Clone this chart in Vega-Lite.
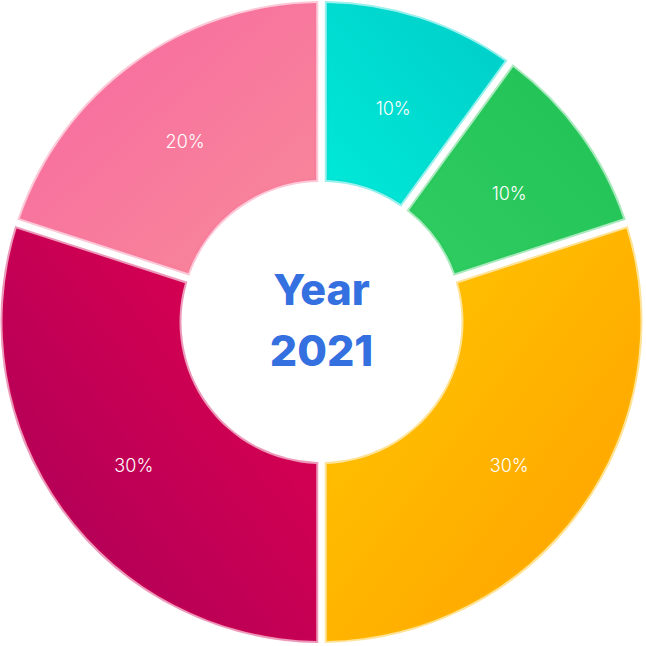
{
  "$schema": "https://vega.github.io/schema/vega-lite/v6.json",
  "width": 643,
  "height": 644,
  "padding": 0,
  "autosize": {"type": "none"},
  "background": "white",
  "config": {"view": {"stroke": null}},
  "layer": [
    {
      "data": {"values": [
        {"segment": "s1", "value": 10, "label": "10%"},
        {"segment": "s2", "value": 10, "label": "10%"},
        {"segment": "s3", "value": 30, "label": "30%"},
        {"segment": "s4", "value": 30, "label": "30%"},
        {"segment": "s5", "value": 20, "label": "20%"}
      ]},
      "encoding": {
        "theta": {"field": "value", "type": "quantitative", "stack": true},
        "order": {"field": "segment", "type": "nominal"}
      },
      "layer": [
        {
          "mark": {"type": "arc", "outerRadius": 319, "innerRadius": 142, "padAngle": 0.03, "strokeWidth": 4, "strokeOpacity": 0.4},
          "encoding": {
            "fill": {
              "condition": [
                {"test": "datum.segment === 's1'", "value": {"gradient": "linear", "x1": 1, "y1": 0, "x2": 0, "y2": 1, "stops": [{"offset": 0, "color": "#00CCC8"}, {"offset": 1, "color": "#00EAD8"}]}},
                {"test": "datum.segment === 's2'", "value": {"gradient": "linear", "x1": 1, "y1": 0, "x2": 0, "y2": 1, "stops": [{"offset": 0, "color": "#20C155"}, {"offset": 1, "color": "#30CD62"}]}},
                {"test": "datum.segment === 's3'", "value": {"gradient": "linear", "x1": 0, "y1": 0, "x2": 1, "y2": 1, "stops": [{"offset": 0, "color": "#FFCA00"}, {"offset": 1, "color": "#FF9E00"}]}},
                {"test": "datum.segment === 's4'", "value": {"gradient": "linear", "x1": 1, "y1": 0, "x2": 0, "y2": 1, "stops": [{"offset": 0, "color": "#E6004E"}, {"offset": 1, "color": "#A5005A"}]}}
              ],
              "value": {"gradient": "linear", "x1": 0, "y1": 0, "x2": 1, "y2": 1, "stops": [{"offset": 0, "color": "#F767A2"}, {"offset": 1, "color": "#F88A98"}]}
            },
            "stroke": {"field": "segment", "type": "nominal", "legend": null,
              "scale": {"domain": ["s1", "s2", "s3", "s4", "s5"],
                "range": ["#00DACF", "#28C75B", "#FFB800", "#D00052", "#F7799E"]}}
          }
        },
        {
          "mark": {"type": "text", "radius": 232, "dy": 9, "color": "white", "fontSize": 18, "fontWeight": 300, "font": "Inter"},
          "encoding": {"text": {"field": "label", "type": "nominal"}}
        }
      ]
    },
    {
      "data": {"values": [{"t": "Year\n2021"}]},
      "mark": {"type": "text", "lineBreak": "\n", "lineHeight": 61, "dy": -30, "fontSize": 43, "fontWeight": 800, "font": "Inter", "color": "#3570E0", "baseline": "middle", "align": "center"},
      "encoding": {"text": {"field": "t", "type": "nominal"}}
    }
  ]
}
